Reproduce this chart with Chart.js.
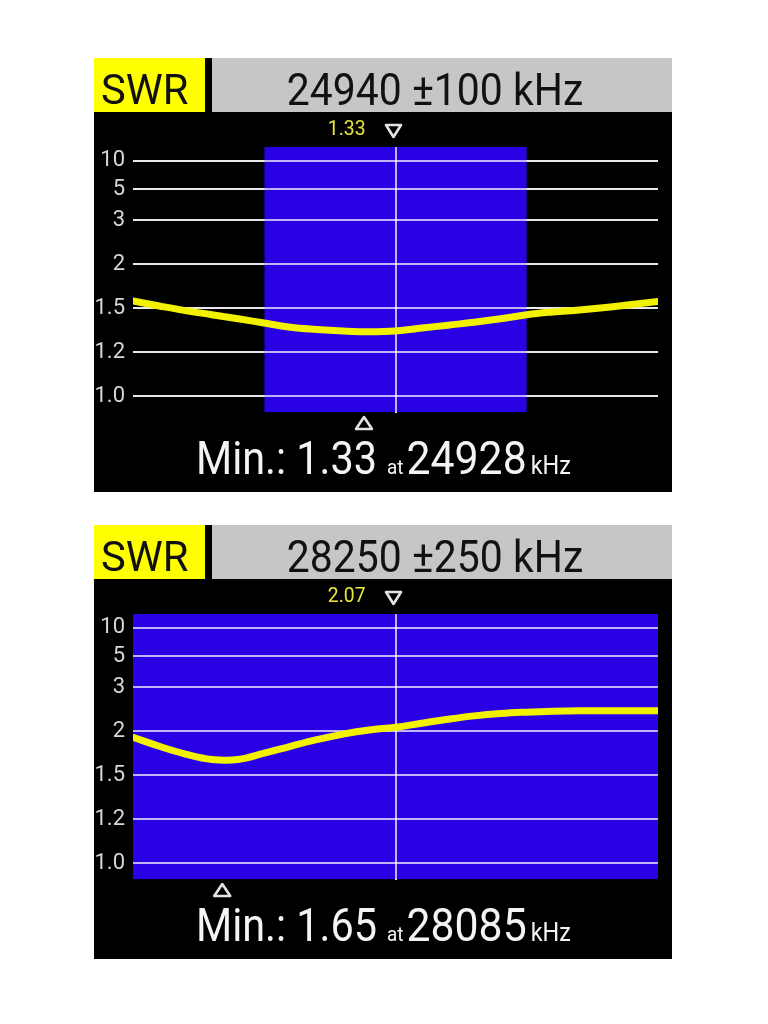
<!DOCTYPE html>
<html>
<head>
<meta charset="utf-8">
<script src="https://cdn.jsdelivr.net/npm/chart.js@4.4.1/dist/chart.umd.min.js"></script>
<style>
  body { margin: 0; background: #fff; }
  .panel { position: absolute; left: 94px; width: 578px; height: 434px; background: #000; }
  canvas { display: block; }
</style>
</head>
<body>
<div class="panel" style="top:58px"><canvas id="swr12" width="578" height="434"></canvas></div>
<div class="panel" style="top:525px"><canvas id="swr10" width="578" height="434"></canvas></div>
<script>
// sweep 1: 24940 +-100 kHz
var FREQ_12M = [24840, 24850, 24860, 24870, 24880, 24890, 24900, 24910, 24920, 24930, 24940,
                24950, 24960, 24970, 24980, 24990, 25000, 25010, 25020, 25030, 25040];
var SWR_12M = [1.57, 1.52, 1.48, 1.45, 1.42, 1.39, 1.36, 1.345, 1.335, 1.33, 1.335,
               1.355, 1.375, 1.395, 1.42, 1.45, 1.47, 1.485, 1.505, 1.535, 1.565];

// sweep 2: 28250 +-250 kHz
var FREQ_10M = [28000, 28025, 28050, 28075, 28100, 28125, 28150, 28175, 28200, 28225, 28250,
                28275, 28300, 28325, 28350, 28375, 28400, 28425, 28450, 28475, 28500];
var SWR_10M = [1.92, 1.81, 1.72, 1.66, 1.66, 1.73, 1.81, 1.89, 1.96, 2.02, 2.07,
               2.15, 2.23, 2.30, 2.35, 2.38, 2.40, 2.41, 2.41, 2.41, 2.41];

var CENTER_KHZ = [24940, 28250];
var SPAN_KHZ = [100, 250];
var BAND_LO = [24890, 28000];   // ham band edges (blue area)
var BAND_HI = [24990, 29700];
var CURSOR_SWR = [1.33, 2.07];
var MIN_SWR = [1.33, 1.65];
var MIN_KHZ = [24928, 28085];

var SWR_TICKS = [1.0, 1.2, 1.5, 2, 3, 5, 10];
var SWR_TICK_LABELS = ['1.0', '1.2', '1.5', '2', '3', '5', '10'];

// the analyzer axis is not a plain log axis: 1.0 .. 3 evenly spaced, 5 and 10 squeezed on top
var AXIS_STOPS = [0, 1, 2, 3, 4, 4.7, 5.35];
var AXIS_MIN = -0.375, AXIS_MAX = 5.66;

function swrPos(v) {
    var i = 1;
    while (i < SWR_TICKS.length - 1 && v > SWR_TICKS[i]) i++;
    var a = Math.log10(SWR_TICKS[i - 1]), b = Math.log10(SWR_TICKS[i]);
    return AXIS_STOPS[i - 1] + (Math.log10(v) - a) / (b - a) * (AXIS_STOPS[i] - AXIS_STOPS[i - 1]);
}

var BLUE = 'rgb(42, 0, 228)';
var GRID = 'rgba(255, 255, 255, 0.7)';

function txt(ctx, s, x, y, size, color, sx, align) {
    ctx.save();
    ctx.font = size + 'px Roboto';
    ctx.fillStyle = color;
    ctx.textBaseline = 'alphabetic';
    var w = ctx.measureText(s).width * sx;
    var x0 = align == 'center' ? x - w / 2 : (align == 'right' ? x - w : x);
    ctx.translate(x0, y);
    ctx.scale(sx, 1);
    ctx.fillText(s, 0, 0);
    ctx.restore();
    return x0 + w;
}

function triangle(ctx, cx, top, w, h, down) {
    ctx.save();
    ctx.beginPath();
    if (down) {
        ctx.moveTo(cx - w / 2, top); ctx.lineTo(cx + w / 2, top); ctx.lineTo(cx, top + h);
    } else {
        ctx.moveTo(cx, top); ctx.lineTo(cx + w / 2, top + h); ctx.lineTo(cx - w / 2, top + h);
    }
    ctx.closePath();
    ctx.lineWidth = 2.6;
    ctx.lineJoin = 'round';
    ctx.strokeStyle = '#e4e4e4';
    ctx.stroke();
    ctx.restore();
}

var panelDeco = {
    id: 'panelDeco',
    afterDatasetDraw: function(chart, args) {
        // grid goes over the blue band but under the SWR curve
        if (args.index !== 0) return;
        chart.scales.y.drawGrid(chart.chartArea);
        chart.scales.x.drawGrid(chart.chartArea);
    },
    afterDraw: function(chart, args, o) {
        var ctx = chart.ctx;
        var i = o.idx;
        var x = chart.scales.x;

        // header
        ctx.fillStyle = '#ffff00';
        ctx.fillRect(0, 0, 111, 54);
        ctx.fillStyle = '#c4c7c4';
        ctx.fillRect(118, 0, 460, 54);
        txt(ctx, 'SWR', 7, 46, 43, '#111', 0.97, 'left');
        txt(ctx, CENTER_KHZ[i] + ' \u00b1' + SPAN_KHZ[i] + ' kHz', 341, 46.5, 44, '#111', 0.93, 'center');

        // cursor value at centre frequency
        var cx = x.getPixelForValue(CENTER_KHZ[i]);
        txt(ctx, CURSOR_SWR[i].toFixed(2), cx - 30, 77, 21, '#e6e63c', 0.92, 'right');
        triangle(ctx, cx - 2, 67, 15, 12, true);

        // minimum marker + readout
        var mx = x.getPixelForValue(MIN_KHZ[i]);
        triangle(ctx, mx, 359, 16, 12, false);
        var px = txt(ctx, 'Min.: ' + MIN_SWR[i].toFixed(2), 102, 416, 46, '#f4f4f4', 0.9, 'left');
        px = txt(ctx, 'at', px + 10, 416, 21, '#f4f4f4', 0.9, 'left');
        px = txt(ctx, String(MIN_KHZ[i]), px + 3, 416, 46, '#f4f4f4', 0.93, 'left');
        txt(ctx, 'kHz', px + 4, 416, 26, '#f4f4f4', 0.9, 'left');
    }
};

function makePanel(id, idx, freqs, swrs) {
    var pts = [];
    for (var i = 0; i < freqs.length; i++) pts.push({x: freqs[i], y: swrPos(swrs[i])});
    var lo = freqs[0], hi = freqs[freqs.length - 1];

    return new Chart(document.getElementById(id).getContext('2d'), {
        type: 'line',
        data: {
            datasets: [{
                label: 'band',
                data: [{x: BAND_LO[idx], y: AXIS_MAX}, {x: BAND_HI[idx], y: AXIS_MAX}],
                borderWidth: 0,
                pointRadius: 0,
                backgroundColor: BLUE,
                fill: 'start',
                order: 2
            }, {
                label: 'SWR',
                data: pts,
                borderColor: '#f2f200',
                borderWidth: 7,
                borderCapStyle: 'round',
                borderJoinStyle: 'round',
                tension: 0.4,
                pointRadius: 0,
                fill: false,
                order: 1
            }]
        },
        options: {
            responsive: false,
            animation: false,
            events: [],
            layout: { padding: { left: 0, right: 14, top: 89, bottom: 79.5 } },
            plugins: {
                legend: { display: false },
                tooltip: { enabled: false },
                panelDeco: { idx: idx }
            },
            scales: {
                x: {
                    type: 'linear',
                    min: lo,
                    max: hi,
                    afterBuildTicks: function(s) { s.ticks = [{value: CENTER_KHZ[idx]}]; },
                    afterFit: function(s) { s.height = 0; },
                    ticks: { display: false },
                    grid: { color: GRID, lineWidth: 2, drawTicks: false },
                    border: { display: false }
                },
                y: {
                    type: 'linear',
                    min: AXIS_MIN,
                    max: AXIS_MAX,
                    afterBuildTicks: function(s) {
                        s.ticks = SWR_TICKS.map(function(v) { return {value: swrPos(v)}; });
                    },
                    afterFit: function(s) { s.width = 39; },
                    ticks: {
                        padding: 8,
                        color: '#d6d6d6',
                        font: { family: 'Roboto', size: 22 },
                        callback: function(v, i) { return SWR_TICK_LABELS[i]; }
                    },
                    grid: { color: GRID, lineWidth: 2, drawTicks: false },
                    border: { display: false }
                }
            }
        },
        plugins: [panelDeco]
    });
}

makePanel('swr12', 0, FREQ_12M, SWR_12M);
makePanel('swr10', 1, FREQ_10M, SWR_10M);
</script>
</body>
</html>
